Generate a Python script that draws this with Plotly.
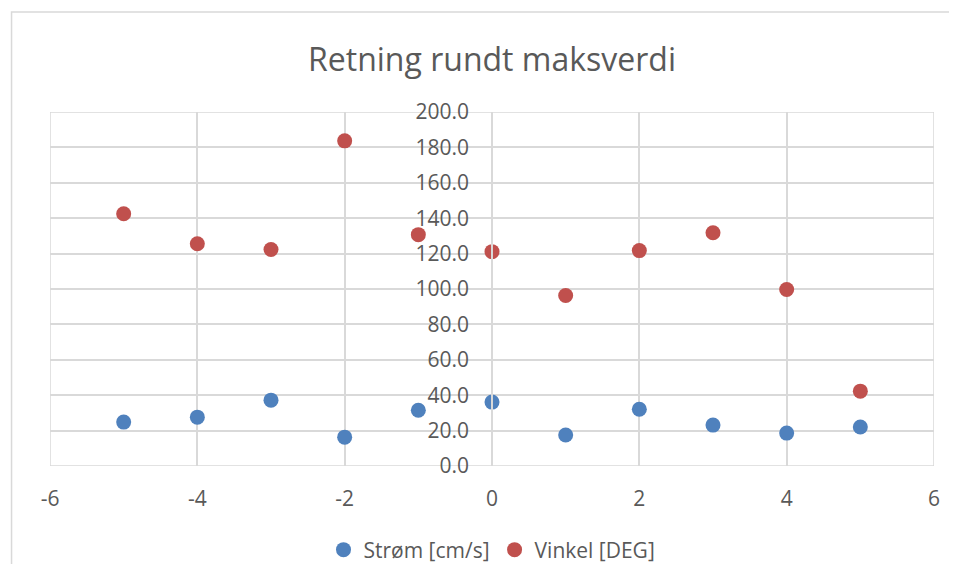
import plotly.graph_objects as go

# offsets around the max value
offsets = [-5, -4, -3, -2, -1, 0, 1, 2, 3, 4, 5]
strom = [24.8, 27.6, 37.2, 16.3, 31.5, 36.1, 17.5, 32.1, 23.1, 18.6, 22.0]
vinkel = [142.5, 125.6, 122.3, 183.7, 130.7, 121.1, 96.3, 121.7, 131.8, 99.7, 42.3]

x_ticks = [-6, -4, -2, 0, 2, 4, 6]
x_labels = ["-6", "-4", "-2", "0", "2", "4", "6"]
x_range = [-6, 6]
y_range = [0, 200]

grid = "#d9d9d9"
txt = "#595959"
font = "Open Sans"

W, H = 941, 556  # page body adds an 8px margin around the figure

fig = go.Figure()
fig.add_trace(go.Scatter(x=offsets, y=strom, mode="markers", name="Strøm [cm/s]",
                         marker=dict(color="#4F81BD", size=15)))
fig.add_trace(go.Scatter(x=offsets, y=vinkel, mode="markers", name="Vinkel [DEG]",
                         marker=dict(color="#C0504D", size=15)))

# plot area frame
fig.add_shape(type="rect", xref="x", yref="y", x0=x_range[0], x1=x_range[1],
              y0=y_range[0], y1=y_range[1], line=dict(color=grid, width=1.5), layer="below")
# chart outer border: only the left and top edges are visible in the original
fig.add_shape(type="path", xref="paper", yref="paper",
              path="M -0.0435,-0.6 L -0.0435,1.2825 L 1.2,1.2825",
              line=dict(color=grid, width=1.5), layer="below")

fig.update_layout(
    width=W, height=H,
    margin=dict(l=41.5, r=15, t=104, b=98),
    paper_bgcolor="white", plot_bgcolor="white",
    font=dict(family=font, color=txt, size=21),
    title=dict(text="Retning rundt maksverdi", x=0.5, xref="paper", y=1 - 52 / H,
               yanchor="middle", font=dict(size=32, color=txt)),
    showlegend=True,
    legend=dict(orientation="h", x=0.5, xanchor="center", yref="container",
                y=1 - 542 / H, yanchor="middle",
                font=dict(size=21, color=txt), itemwidth=30),
    xaxis=dict(range=x_range, tickvals=x_ticks, ticktext=x_labels, showgrid=True,
               gridcolor=grid, gridwidth=1.5,
               zeroline=False, ticks="outside", ticklen=14, tickcolor="rgba(0,0,0,0)",
               automargin=False, fixedrange=True),
    yaxis=dict(range=y_range, dtick=20, tickformat=".1f", showgrid=True, gridcolor=grid,
               gridwidth=1.5, zeroline=False, anchor="free", position=0.5,
               showline=True, linecolor=grid, linewidth=1.5,
               ticks="outside", ticklen=18, tickcolor="rgba(0,0,0,0)",
               automargin=False, fixedrange=True),
)

fig.write_html("out.html")
